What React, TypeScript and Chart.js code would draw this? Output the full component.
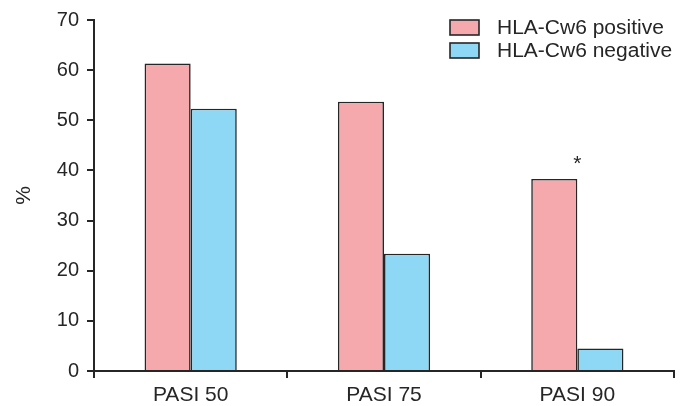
import React, { useEffect, useRef } from "react";
import { Chart, registerables } from "chart.js";

Chart.register(...registerables);

const categories = ["PASI 50", "PASI 75", "PASI 90"];
const positiveValues = [61.3, 53.7, 38.3];
const negativeValues = [52.3, 23.4, 4.5];
const significance = ["", "", "*"];
const seriesLabels = ["HLA-Cw6 positive", "HLA-Cw6 negative"];
const yTicks = [0, 10, 20, 30, 40, 50, 60, 70];

const INK = "#262626";
const PINK = "#f6a9ad";
const BLUE = "#8fd8f5";
const FONT = "'Liberation Sans', Arial, sans-serif";

const overlayPlugin = {
  id: "overlay",
  afterDraw(chart: any) {
    const ctx = chart.ctx;
    const area = chart.chartArea;
    const xs = chart.scales.x;
    const ys = chart.scales.y;
    ctx.save();
    // significance markers
    ctx.fillStyle = INK;
    ctx.font = `21px ${FONT}`;
    ctx.textAlign = "center";
    ctx.textBaseline = "alphabetic";
    significance.forEach((s, i) => {
      if (!s) return;
      const top = Math.max(positiveValues[i], negativeValues[i]);
      ctx.fillText(s, xs.getPixelForValue(i), ys.getPixelForValue(top) - 9);
    });
    // legend
    const boxX = area.right - 224;
    const boxW = 29;
    const boxH = 15;
    const rows = [20, 43];
    chart.data.datasets.forEach((ds: any, i: number) => {
      const y = rows[i];
      ctx.fillStyle = ds.backgroundColor;
      ctx.fillRect(boxX, y, boxW, boxH);
      ctx.lineWidth = 1.6;
      ctx.strokeStyle = INK;
      ctx.strokeRect(boxX, y, boxW, boxH);
      ctx.save();
      ctx.translate(boxX + 47, y + boxH / 2 + 1);
      ctx.scale(1.05, 1);
      ctx.font = `20px ${FONT}`;
      ctx.textAlign = "left";
      ctx.textBaseline = "middle";
      ctx.fillStyle = INK;
      ctx.fillText(ds.label, 0, 0);
      ctx.restore();
    });
    ctx.restore();
  },
};

export default function App() {
  const ref = useRef<HTMLCanvasElement | null>(null);
  useEffect(() => {
    if (!ref.current) return;
    const chart = new Chart(ref.current, {
      type: "bar",
      data: {
        labels: categories,
        datasets: [
          {
            label: seriesLabels[0],
            data: positiveValues,
            backgroundColor: PINK,
            borderColor: INK,
            borderWidth: 1.6,
            borderSkipped: "bottom",
            barPercentage: 1,
            categoryPercentage: 0.477,
          },
          {
            label: seriesLabels[1],
            data: negativeValues,
            backgroundColor: BLUE,
            borderColor: INK,
            borderWidth: 1.6,
            borderSkipped: "bottom",
            barPercentage: 1,
            categoryPercentage: 0.477,
          },
        ],
      },
      options: {
        animation: false,
        responsive: true,
        maintainAspectRatio: false,
        layout: { padding: { top: 20, right: 13, left: 0, bottom: 0 } },
        plugins: {
          legend: { display: false },
          tooltip: { enabled: false },
        },
        scales: {
          x: {
            grid: {
              display: true,
              drawOnChartArea: false,
              drawTicks: true,
              tickLength: 7,
              color: INK,
              lineWidth: 2,
              offset: true,
            },
            border: { display: true, color: INK, width: 2 },
            ticks: {
              color: INK,
              font: { family: FONT, size: 21 },
              padding: 5,
            },
            afterFit: (s: any) => {
              s.height = 35;
            },
          },
          y: {
            min: 0,
            max: 70,
            afterBuildTicks: (s: any) => {
              s.ticks = yTicks.map((v) => ({ value: v }));
            },
            grid: {
              display: true,
              drawOnChartArea: false,
              drawTicks: true,
              tickLength: 7,
              color: INK,
              lineWidth: 2,
            },
            border: { display: true, color: INK, width: 2 },
            ticks: {
              color: INK,
              font: { family: FONT, size: 20 },
              padding: 8,
            },
            title: {
              display: true,
              text: "%",
              color: INK,
              font: { family: FONT, size: 21 },
              padding: { top: 12, bottom: 0 },
            },
            afterFit: (s: any) => {
              s.width = 94;
            },
          },
        },
      },
      plugins: [overlayPlugin],
    });
    return () => chart.destroy();
  }, []);
  return (
    <div style={{ position: "absolute", left: 0, top: 0, width: 687, height: 406, background: "#fff" }}>
      <canvas ref={ref} />
    </div>
  );
}
